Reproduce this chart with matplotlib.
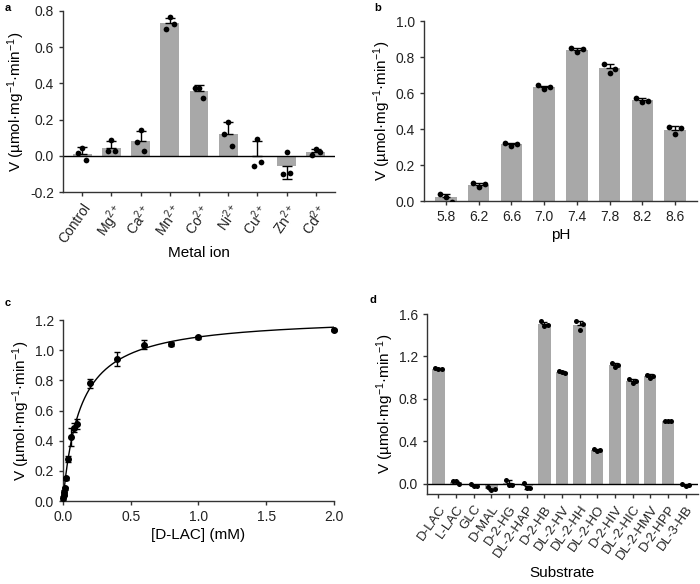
import numpy as np
import matplotlib
matplotlib.use("Agg")
import matplotlib.pyplot as plt

plt.rcParams['font.family'] = ['Liberation Sans', 'DejaVu Sans']
plt.rcParams['mathtext.fontset'] = 'custom'
plt.rcParams['mathtext.rm'] = 'Liberation Sans'
plt.rcParams['mathtext.it'] = 'Liberation Sans'
plt.rcParams['axes.unicode_minus'] = False
plt.rcParams['font.size'] = 10
plt.rcParams['axes.labelsize'] = 11

# ---- data ----
metal_ions = ['Control', 'Mg$^{2+}$', 'Ca$^{2+}$', 'Mn$^{2+}$', 'Co$^{2+}$',
              'Ni$^{2+}$', 'Cu$^{2+}$', 'Zn$^{2+}$', 'Cd$^{2+}$']
metal_reps = [[0.045, 0.015, -0.025],
              [0.085, 0.025, 0.025],
              [0.14, 0.075, 0.025],
              [0.765, 0.70, 0.728],
              [0.375, 0.375, 0.32],
              [0.185, 0.12, 0.055],
              [0.095, -0.055, -0.035],
              [0.022, -0.10, -0.097],
              [0.035, 0.003, 0.022]]

ph_labels = ['5.8', '6.2', '6.6', '7.0', '7.4', '7.8', '8.2', '8.6']
ph_reps = [[0.037, 0.025, -0.003],
           [0.100, 0.080, 0.095],
           [0.325, 0.305, 0.315],
           [0.642, 0.625, 0.632],
           [0.848, 0.827, 0.845],
           [0.763, 0.712, 0.736],
           [0.573, 0.550, 0.555],
           [0.410, 0.375, 0.405]]

dlac_conc = [0.0025, 0.005, 0.01, 0.015, 0.02, 0.04, 0.06, 0.08, 0.1, 0.2, 0.4, 0.6, 0.8, 1.0, 2.0]
dlac_v = [0.02, 0.04, 0.06, 0.085, 0.15, 0.28, 0.425, 0.485, 0.51, 0.78, 0.94, 1.035, 1.04, 1.085, 1.135]
dlac_sd = [0.01, 0.01, 0.015, 0.01, 0.01, 0.02, 0.06, 0.03, 0.035, 0.03, 0.045, 0.03, 0.015, 0.008, 0.008]

substrates = ['D-LAC', 'L-LAC', 'GLC', 'D-MAL', 'D-2-HG', 'DL-2-HAP', 'D-2-HB', 'DL-2-HV',
              'DL-2-HH', 'DL-2-HO', 'D-2-HIV', 'DL-2-HIC', 'DL-2-HMV', 'D-2-HPP', 'DL-3-HB']
substrate_reps = [[1.09, 1.08, 1.08],
                  [0.025, 0.025, 0.0],
                  [0.0, -0.015, -0.015],
                  [-0.03, -0.055, -0.045],
                  [0.04, -0.01, -0.01],
                  [0.01, -0.035, -0.035],
                  [1.53, 1.49, 1.50],
                  [1.065, 1.05, 1.045],
                  [1.53, 1.45, 1.51],
                  [0.33, 0.31, 0.32],
                  [1.14, 1.10, 1.12],
                  [0.985, 0.95, 0.965],
                  [1.03, 0.995, 1.02],
                  [0.595, 0.59, 0.59],
                  [-0.005, -0.015, -0.01]]

YLABEL = 'V (µmol·mg$^{-1}$·min$^{-1}$)'
BAR_COLOR = '#a8a8a8'
SPINE = '#333333'


def style_axes(ax):
    for s in ['top', 'right']:
        ax.spines[s].set_visible(False)
    for s in ['left', 'bottom']:
        ax.spines[s].set_color(SPINE)
        ax.spines[s].set_linewidth(1.0)
    ax.tick_params(direction='out', length=3, width=1.0, color=SPINE, labelcolor='#222222')


def bar_panel(ax, reps, width, offsets, dot_size, capsize):
    reps = np.array(reps)
    means = reps.mean(axis=1)
    sds = reps.std(axis=1, ddof=1)
    x = np.arange(len(means))
    ax.bar(x, means, width=width, color=BAR_COLOR, zorder=1)
    # one-sided error bars, pointing away from zero
    lower = np.where(means < 0, sds, 0)
    upper = np.where(means >= 0, sds, 0)
    ax.errorbar(x, means, yerr=[lower, upper], fmt='none', ecolor='black',
                elinewidth=1.0, capsize=capsize, capthick=1.0, zorder=2)
    for i, r in enumerate(reps):
        ax.scatter(x[i] + np.array(offsets), r, s=dot_size, color='black',
                   zorder=3, linewidths=0)
    return x


fig = plt.figure(figsize=(7, 5.84), dpi=100)

# ---- a ----
ax = fig.add_axes([0.09, 0.6712, 0.3886, 0.31])
x = bar_panel(ax, metal_reps, 0.65, [0.0, -0.13, 0.13], 17, 3.5)
ax.axhline(0, color='black', lw=1.0, zorder=2)
ax.set_xlim(-0.66, len(metal_ions) - 0.34)
ax.set_ylim(-0.2, 0.8)
ax.set_yticks([-0.2, 0.0, 0.2, 0.4, 0.6, 0.8])
ax.set_yticklabels(['-0.2', '0.0', '0.2', '0.4', '0.6', '0.8'])
ax.set_xticks(x)
ax.set_xticklabels(metal_ions, rotation=55, ha='right', rotation_mode='anchor')
ax.set_xlabel('Metal ion', labelpad=0)
ax.set_ylabel(YLABEL, labelpad=2)
style_axes(ax)

# ---- b ----
ax = fig.add_axes([0.6057, 0.6558, 0.39, 0.3082])
x = bar_panel(ax, ph_reps, 0.66, [-0.18, 0.0, 0.18], 17, 3)
ax.set_xlim(-0.67, len(ph_labels) - 0.33)
ax.set_ylim(0, 1.0)
ax.set_yticks([0.0, 0.2, 0.4, 0.6, 0.8, 1.0])
ax.set_yticklabels(['0.0', '0.2', '0.4', '0.6', '0.8', '1.0'])
ax.set_xticks(x)
ax.set_xticklabels(ph_labels)
ax.set_xlabel('pH', labelpad=3)
ax.set_ylabel(YLABEL, labelpad=2)
style_axes(ax)

# ---- c ----
ax = fig.add_axes([0.09, 0.1421, 0.387, 0.3099])
conc = np.array(dlac_conc)
v = np.array(dlac_v)
# Michaelis-Menten least-squares fit (grid over Km, closed-form Vmax)
best = None
for km in np.linspace(0.02, 0.3, 561):
    f = conc / (km + conc)
    vmax = (f @ v) / (f @ f)
    err = np.sum((v - vmax * f) ** 2)
    if best is None or err < best[0]:
        best = (err, km, vmax)
_, km_fit, vmax_fit = best
xs = np.linspace(0, 2.0, 400)
ax.plot(xs, vmax_fit * xs / (km_fit + xs), color='black', lw=1.0, zorder=2)
ax.errorbar(conc, v, yerr=dlac_sd, fmt='o', color='black', ms=4,
            elinewidth=1.0, capsize=2.5, capthick=1.0, zorder=3, clip_on=False)
ax.set_xlim(0, 2.0)
ax.set_ylim(0, 1.2)
ax.set_xticks([0.0, 0.5, 1.0, 1.5, 2.0])
ax.set_xticklabels(['0.0', '0.5', '1.0', '1.5', '2.0'])
ax.set_yticks(np.arange(0, 1.21, 0.2))
ax.set_yticklabels(['0.0', '0.2', '0.4', '0.6', '0.8', '1.0', '1.2'])
ax.set_xlabel('[D-LAC] (mM)', labelpad=3)
ax.set_ylabel(YLABEL, labelpad=2)
style_axes(ax)

# ---- d ----
ax = fig.add_axes([0.61, 0.1541, 0.387, 0.3082])
x = bar_panel(ax, substrate_reps, 0.7, [-0.18, 0.0, 0.18], 13, 2.5)
ax.axhline(0, color='black', lw=1.0, zorder=2)
ax.set_xlim(-0.65, len(substrates) - 0.3)
ax.set_ylim(-0.095, 1.6)
ax.set_yticks([0.0, 0.4, 0.8, 1.2, 1.6])
ax.set_yticklabels(['0.0', '0.4', '0.8', '1.2', '1.6'])
ax.set_xticks(x)
ax.set_xticklabels(substrates, rotation=55, ha='right', rotation_mode='anchor',
                   fontsize=9.5)
ax.set_xlabel('Substrate', labelpad=3)
ax.set_ylabel(YLABEL, labelpad=2)
style_axes(ax)

# panel letters
for lbl, px, py in [('a', 8, 8), ('b', 378, 8), ('c', 8, 303), ('d', 373, 300)]:
    fig.text(px / 700, 1 - py / 584, lbl, fontsize=8, fontweight='bold',
             ha='center', va='center')

fig.savefig('out.png', dpi=100)
